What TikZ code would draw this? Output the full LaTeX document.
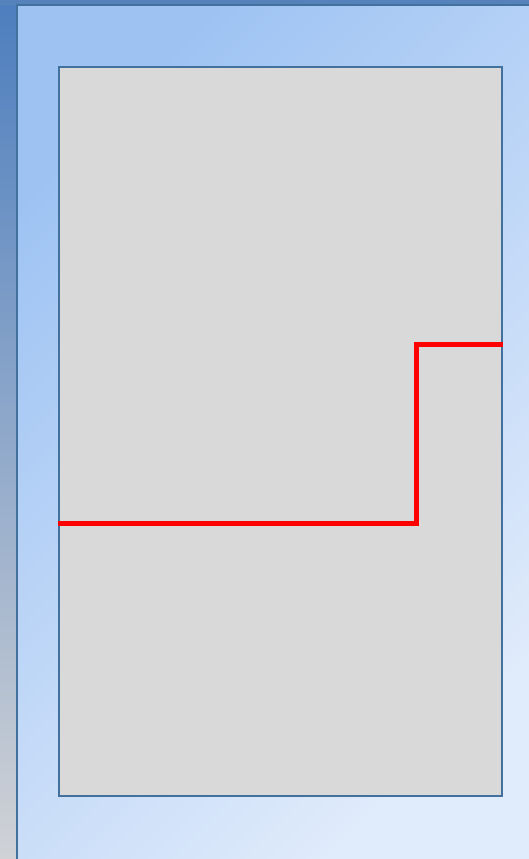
\documentclass[tikz,border=0pt]{standalone}
\usetikzlibrary{calc}
\definecolor{stripTop}{HTML}{4D7EBE}
\definecolor{stripBot}{HTML}{D0D2D6}
\definecolor{bandTop}{HTML}{5682BC}
\definecolor{panelA}{HTML}{9EC3F3}
\definecolor{panelB}{HTML}{E0EBFB}
\definecolor{frameBlue}{HTML}{41719C}
\definecolor{boxGrey}{HTML}{D9D9D9}
\tikzset{
  boxstyle/.style={draw=frameBlue, line width=2pt, fill=boxGrey, inner sep=0pt, minimum width=443pt, minimum height=729pt},
  redpath/.style={draw=red, line width=5pt, line join=miter},
}
\begin{document}
\begin{tikzpicture}[x=1pt,y=-1pt]
\useasboundingbox (0,0) rectangle (529,859);
% left strip
\shade[top color=stripTop, bottom color=stripBot] (0,0) rectangle (17,859);
% top band
\fill[bandTop] (0,0) rectangle (529,5);
% panel
\shade[top color=panelA, bottom color=panelB, shading angle=45] (17,5) rectangle (529,859);
\draw[frameBlue, line width=2pt] (17,859) -- (17,5) -- (529,5);
% inner box
\node[boxstyle] (box) at (280.5,431.5) {};
% red line
\coordinate (r1) at (box.west |- 0,523);
\coordinate (r2) at (416,523);
\coordinate (r3) at (416,344);
\coordinate (r4) at (box.east |- 0,344);
\draw[redpath] (r1) -- (r2) -- (r3) -- (r4);
\end{tikzpicture}
\end{document}
